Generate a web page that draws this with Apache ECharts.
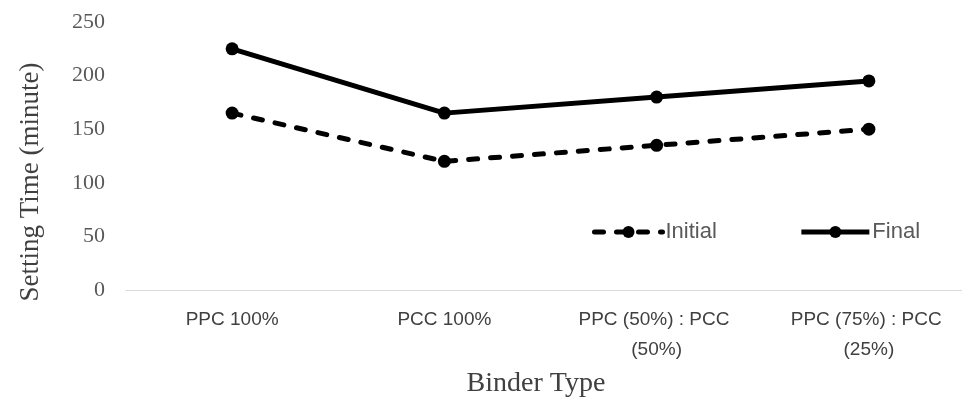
<!DOCTYPE html>
<html>
<head>
<meta charset="utf-8">
<script src="https://cdn.jsdelivr.net/npm/echarts@6/dist/echarts.min.js"></script>
<style>
  html, body { margin: 0; padding: 0; background: #fff; }
  #chart { width: 962px; height: 402px; }
</style>
</head>
<body>
<div id="chart"></div>
<script>
// binder types on the x axis
var categories = ['PPC 100%', 'PCC 100%', 'PPC (50%) : PCC (50%)', 'PPC (75%) : PCC (25%)'];
// setting time in minutes
var initialTime = [165, 120, 135, 150];
var finalTime = [225, 165, 180, 195];
var yTicks = { min: 0, max: 250, interval: 50 };

var chart = echarts.init(document.getElementById('chart'));

var option = {
    animation: false,
    grid: { left: 126, right: -13, top: 22, bottom: 112, outerBoundsMode: 'none' },
    legend: {
        left: 587,
        top: 216,
        itemWidth: 68,
        itemHeight: 15,
        itemGap: 82,
        lineStyle: { width: 5 },
        textStyle: { fontFamily: 'Liberation Sans', fontSize: 22, color: '#595959', padding: [0, 0, 0, -2] },
        data: ['Initial', 'Final']
    },
    xAxis: {
        type: 'category',
        data: categories,
        name: 'Binder Type',
        nameLocation: 'middle',
        nameGap: 80,
        nameTextStyle: { fontFamily: 'Liberation Serif', fontSize: 28, color: '#404040', padding: [0, 29, 0, 0] },
        axisLine: { lineStyle: { color: '#d9d9d9', width: 1 } },
        axisTick: { show: false },
        axisLabel: {
            interval: 0,
            margin: 15,
            width: 190,
            overflow: 'break',
            lineHeight: 30,
            fontFamily: 'Liberation Sans',
            fontSize: 19,
            color: '#404040'
        }
    },
    yAxis: {
        type: 'value',
        min: yTicks.min,
        max: yTicks.max,
        interval: yTicks.interval,
        name: 'Setting Time (minute)',
        nameLocation: 'middle',
        nameGap: 82,
        nameTextStyle: { fontFamily: 'Liberation Serif', fontSize: 27, color: '#404040', padding: [0, 52, 0, 0] },
        axisLine: { show: false },
        axisTick: { show: false },
        splitLine: { show: false },
        axisLabel: { margin: 21, fontFamily: 'Liberation Serif', fontSize: 22, color: '#595959' }
    },
    series: [
        {
            name: 'Initial',
            type: 'line',
            data: initialTime,
            symbol: 'circle',
            symbolSize: 13,
            itemStyle: { color: '#000' },
            lineStyle: { color: '#000', width: 5, type: [9, 13], cap: 'round' }
        },
        {
            name: 'Final',
            type: 'line',
            data: finalTime,
            symbol: 'circle',
            symbolSize: 13,
            itemStyle: { color: '#000' },
            lineStyle: { color: '#000', width: 5 }
        }
    ]
};

chart.setOption(option);
</script>
</body>
</html>
